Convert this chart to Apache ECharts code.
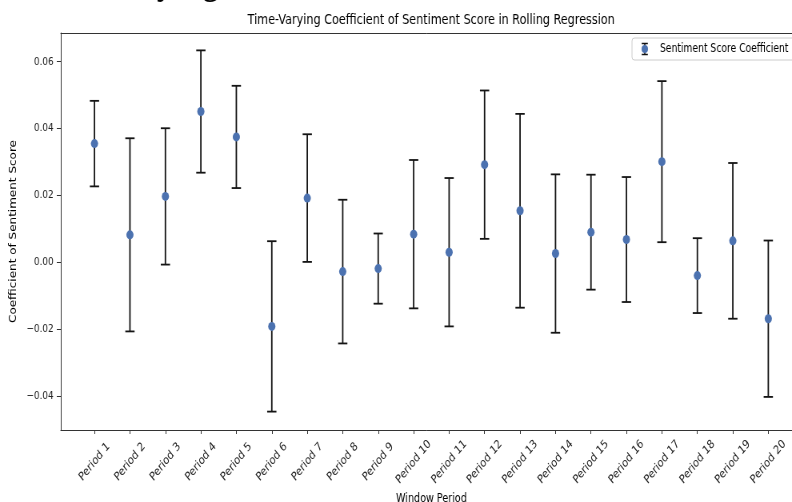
<!DOCTYPE html>
<html><head><meta charset="utf-8">
<script src="https://cdn.jsdelivr.net/npm/echarts@6/dist/echarts.min.js"></script>
<style>
html,body{margin:0;padding:0;background:#fff;overflow:hidden;width:792px;height:502px;}
#main{width:990px;height:502px;transform:scaleX(0.8);transform-origin:0 0;}
</style></head><body><div id="main"></div>
<script>
const categories = ['Period 1','Period 2','Period 3','Period 4','Period 5','Period 6','Period 7','Period 8','Period 9','Period 10',
  'Period 11','Period 12','Period 13','Period 14','Period 15','Period 16','Period 17','Period 18','Period 19','Period 20'];
const coefficients = [0.0355,0.0082,0.0197,0.0451,0.0375,-0.0192,0.0192,-0.0028,-0.0019,0.0084,
  0.0030,0.0292,0.0154,0.0026,0.0090,0.0068,0.0301,-0.0040,0.0064,-0.0169];
const errors = [0.0128,0.0289,0.0204,0.0183,0.0153,0.0255,0.0191,0.0215,0.0105,0.0222,
  0.0222,0.0222,0.0290,0.0237,0.0172,0.0187,0.0241,0.0112,0.0233,0.0234];
const yTicks = [-0.04,-0.02,0.00,0.02,0.04,0.06];
const titleText = 'Time-Varying Coefficient of Sentiment Score in Rolling Regression';
const seriesName = 'Sentiment Score Coefficient';

const FONT = "'DejaVu Sans', sans-serif";
const xIdx = categories.map((c, i) => i);
const errData = categories.map((c, i) => [i, coefficients[i] - errors[i], coefficients[i] + errors[i]]);
const ptData = categories.map((c, i) => [i, coefficients[i]]);

const svg = '<svg xmlns="http://www.w3.org/2000/svg" width="28" height="16" viewBox="0 0 28 16">' +
  '<g stroke="#111" stroke-width="1.5"><line x1="14" y1="2.5" x2="14" y2="13.5"/>' +
  '<line x1="10.2" y1="2.5" x2="17.8" y2="2.5"/><line x1="10.2" y1="13.5" x2="17.8" y2="13.5"/></g>' +
  '<circle cx="14" cy="8" r="4" fill="#4C72B0"/></svg>';
const legendIcon = 'image://data:image/svg+xml;charset=utf-8,' + encodeURIComponent(svg);

const chart = echarts.init(document.getElementById('main'), null, {renderer: 'canvas'});
chart.setOption({
  animation: false,
  backgroundColor: '#fff',
  title: {
    text: titleText, left: 539, top: 13, textAlign: 'center', padding: 0,
    textStyle: {fontFamily: FONT, fontSize: 14, fontWeight: 'normal', color: '#000'}
  },
  legend: {
    left: 790, top: 38, padding: [3, 8, 3, 2], itemWidth: 28, itemHeight: 16,
    backgroundColor: 'rgba(255,255,255,0.8)', borderColor: '#cccccc', borderWidth: 1, borderRadius: 3,
    textStyle: {fontFamily: FONT, fontSize: 11.5, color: '#000'},
    data: [{name: seriesName, icon: legendIcon}]
  },
  graphic: [{
    type: 'text', x: 196, y: -19, silent: true,
    style: {text: 'ying', font: "44px 'Liberation Serif', serif", fill: '#000', align: 'left', verticalAlign: 'middle'}
  }],
  grid: {left: 76, top: 33, right: -12.5, bottom: 72, containLabel: false, outerBoundsMode: 'none'},
  xAxis: [{
    type: 'value', min: -0.95, max: 19.95,
    name: 'Window Period', nameLocation: 'middle', nameGap: 59,
    nameTextStyle: {fontFamily: FONT, fontSize: 12, color: '#000'},
    axisLine: {show: true, onZero: false, lineStyle: {color: '#333', width: 1}},
    axisTick: {show: true, length: 4, customValues: xIdx, lineStyle: {color: '#333'}},
    axisLabel: {
      customValues: xIdx, formatter: v => categories[Math.round(v)],
      rotate: 45, align: 'center', verticalAlign: 'middle', margin: 32,
      fontFamily: FONT, fontSize: 12, color: '#222'
    },
    splitLine: {show: false}
  }, {
    type: 'value', min: -0.95, max: 19.95, position: 'top',
    axisLine: {show: true, onZero: false, lineStyle: {color: '#333', width: 1}},
    axisTick: {show: false}, axisLabel: {show: false}, splitLine: {show: false}
  }],
  yAxis: {
    type: 'value', min: -0.0502, max: 0.0686,
    name: 'Coefficient of Sentiment Score', nameLocation: 'middle', nameGap: 45,
    nameTextStyle: {fontFamily: FONT, fontSize: 12, color: '#000'},
    axisLine: {show: true, onZero: false, lineStyle: {color: '#333', width: 1}},
    axisTick: {show: true, length: 5, customValues: yTicks, lineStyle: {color: '#333'}},
    axisLabel: {
      customValues: yTicks, formatter: v => v.toFixed(2).replace('-', '\u2212'),
      margin: 9, fontFamily: FONT, fontSize: 11, color: '#222'
    },
    splitLine: {show: false}
  },
  series: [{
    name: 'Error bars', type: 'custom', xAxisIndex: 0, z: 2,
    data: errData, encode: {x: 0, y: [1, 2]},
    renderItem: function (params, api) {
      const x = api.value(0);
      const pLo = api.coord([x, api.value(1)]);
      const pHi = api.coord([x, api.value(2)]);
      const cap = 5.8;
      const st = {stroke: '#141414', lineWidth: 1.8, fill: null};
      return {type: 'group', children: [
        {type: 'line', shape: {x1: pLo[0], y1: pLo[1], x2: pHi[0], y2: pHi[1]}, style: st},
        {type: 'line', shape: {x1: pHi[0] - cap, y1: pHi[1], x2: pHi[0] + cap, y2: pHi[1]}, style: st},
        {type: 'line', shape: {x1: pLo[0] - cap, y1: pLo[1], x2: pLo[0] + cap, y2: pLo[1]}, style: st}
      ]};
    }
  }, {
    name: seriesName, type: 'scatter', xAxisIndex: 0, z: 5,
    data: ptData, symbol: 'circle', symbolSize: 9,
    itemStyle: {color: '#4C72B0', opacity: 1}
  }]
});
</script></body></html>
